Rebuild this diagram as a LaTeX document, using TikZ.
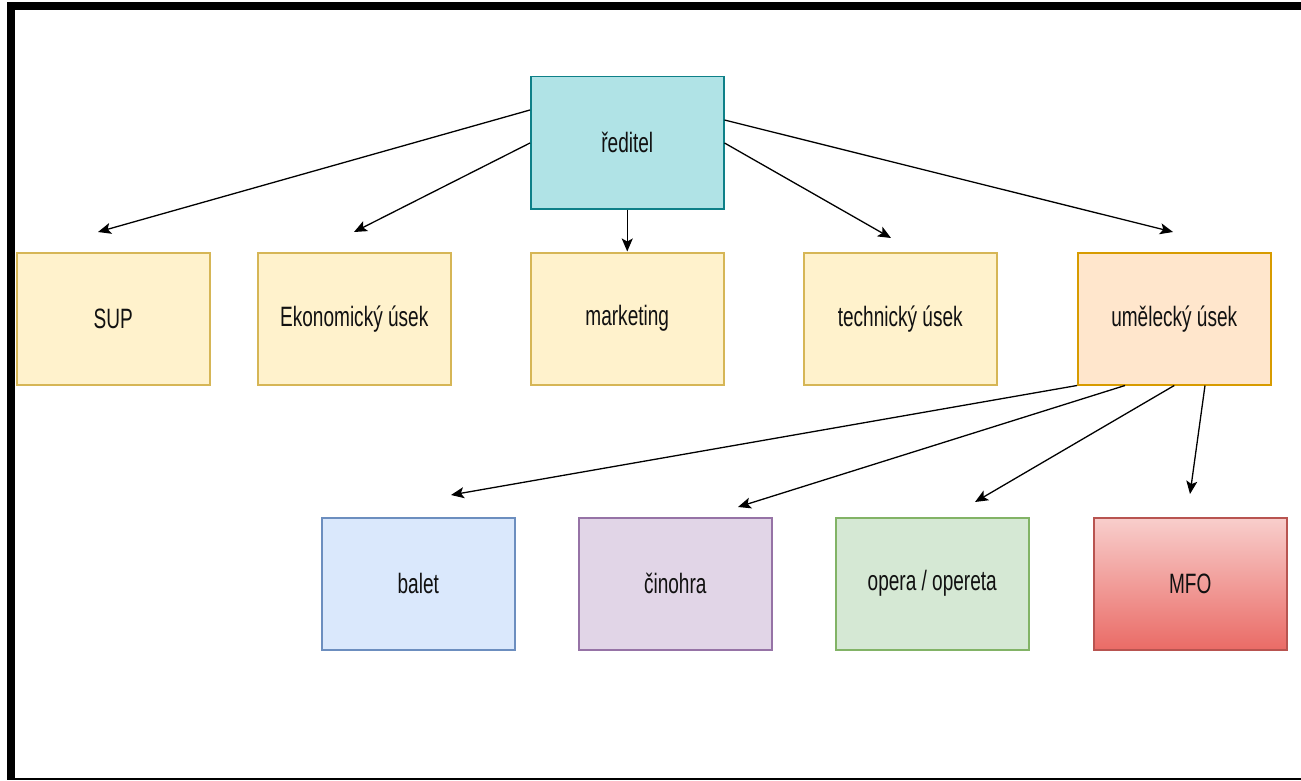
\documentclass[tikz,border=0pt]{standalone}
\usepackage{fontspec}
\setmainfont{Liberation Sans}[FakeStretch=0.68]
\usetikzlibrary{arrows.meta}
\definecolor{dirF}{HTML}{B0E3E6}\definecolor{dirS}{HTML}{0E8088}
\definecolor{yelF}{HTML}{FFF2CC}\definecolor{yelS}{HTML}{D6B656}
\definecolor{orF}{HTML}{FFE6CC}\definecolor{orS}{HTML}{D79B00}
\definecolor{bluF}{HTML}{DAE8FC}\definecolor{bluS}{HTML}{6C8EBF}
\definecolor{purF}{HTML}{E1D5E7}\definecolor{purS}{HTML}{9673A6}
\definecolor{grnF}{HTML}{D5E8D4}\definecolor{grnS}{HTML}{82B366}
\definecolor{redT}{HTML}{F8CECC}\definecolor{redB}{HTML}{EA6B66}\definecolor{redS}{HTML}{B85450}
\definecolor{txt}{HTML}{111111}
\begin{document}
\begin{tikzpicture}[x=1pt,y=-1pt,
  box/.style={draw, line width=1.5pt, minimum width=193pt, minimum height=132pt,
    inner sep=0pt, font=\fontsize{28pt}{32pt}\selectfont, text=txt, anchor=north west},
  conn/.style={line width=1.3pt, -{Stealth[length=13pt,width=11pt,inset=3pt]}}]
\useasboundingbox (0,0) rectangle (1301,781);
\fill[white] (0,0) rectangle (1301,781);
% frame
\fill[black] (7,2) rectangle (15,779);
\fill[black] (7,2) rectangle (1301,10);
\draw[line width=1.5pt] (7,779) -- (1301,779);
% nodes
\node[box, fill=dirF, draw=dirS] (dir) at (530,76) {ředitel};
\node[box, fill=yelF, draw=yelS] (sup) at (16,252) {SUP};
\node[box, fill=yelF, draw=yelS] (eko) at (257,252) {Ekonomický úsek};
\node[box, fill=yelF, draw=yelS] (mkt) at (530,252) {marketing};
\node[box, fill=yelF, draw=yelS] (tech) at (803,252) {technický úsek};
\node[box, fill=orF, draw=orS] (um) at (1077,252) {umělecký úsek};
\node[box, fill=bluF, draw=bluS] (bal) at (321,517) {balet};
\node[box, fill=purF, draw=purS] (cin) at (578,517) {činohra};
\node[box, fill=grnF, draw=grnS] (op) at (835,517) {opera / opereta};
\node[box, top color=redT, bottom color=redB, draw=redS] (mfo) at (1093,517) {MFO};
% arrow ends
\coordinate (eSup) at (98,232);
\coordinate (eEko) at (354,232);
\coordinate (eMkt) at ([yshift=-42pt]dir.south);
\coordinate (eTech) at (891,238);
\coordinate (eUm) at (1173,232);
\coordinate (eBal) at (451,495);
\coordinate (eCin) at (738,507);
\coordinate (eOp) at (975,502);
\coordinate (eMfo) at (1190,494);
% connectors
\draw[conn] ([yshift=-34pt]dir.north west) -- (eSup);
\draw[conn] ([yshift=-67pt]dir.north west) -- (eEko);
\draw[conn] (dir.south) -- (eMkt);
\draw[conn] ([yshift=-67pt]dir.north east) -- (eTech);
\draw[conn] ([yshift=-44pt]dir.north east) -- (eUm);
\draw[conn] (um.south west) -- (eBal);
\draw[conn] ([xshift=48pt]um.south west) -- (eCin);
\draw[conn] (um.south) -- (eOp);
\draw[conn] ([xshift=128pt]um.south west) -- (eMfo);
\end{tikzpicture}
\end{document}
